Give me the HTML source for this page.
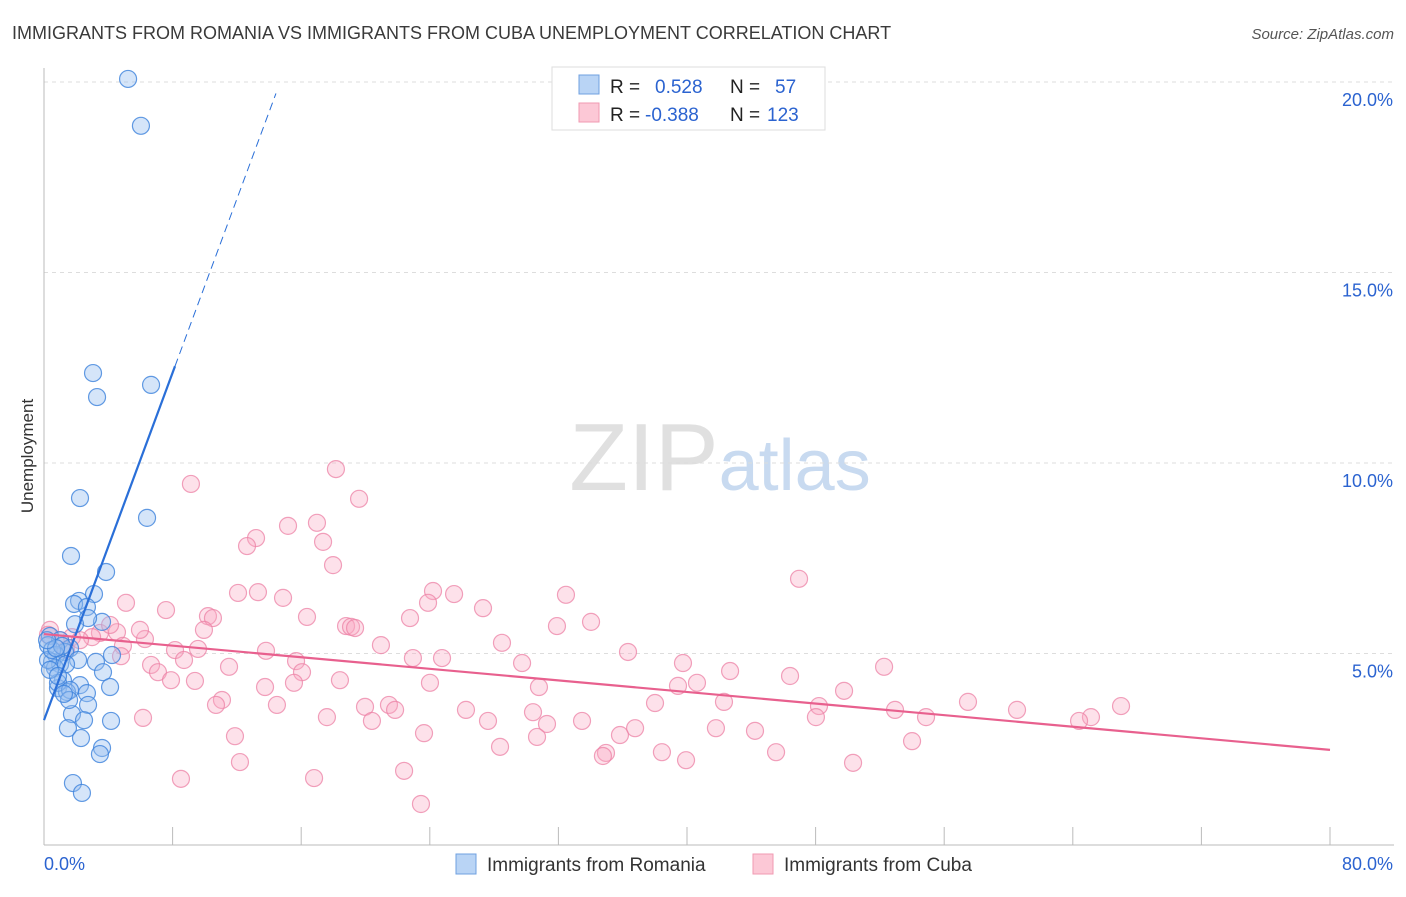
<!DOCTYPE html>
<html><head><meta charset="utf-8"><style>
body{margin:0;background:#fff;font-family:"Liberation Sans",sans-serif;}
svg text{font-family:"Liberation Sans",sans-serif;}
</style></head><body>
<svg id="chart" width="1406" height="892" xmlns="http://www.w3.org/2000/svg">
<text x="12" y="39" font-size="18" fill="#3a3a3a">IMMIGRANTS FROM ROMANIA VS IMMIGRANTS FROM CUBA UNEMPLOYMENT CORRELATION CHART</text>
<text x="1394" y="39" font-size="15" fill="#555" text-anchor="end" font-style="italic">Source: ZipAtlas.com</text>
<text x="720" y="490" font-size="96" text-anchor="middle" fill="#e0e0e0" font-family="Liberation Serif">ZIP<tspan fill="#c8daf0" font-family="Liberation Sans" font-size="72">atlas</tspan></text>
<text transform="translate(33,456) rotate(-90)" font-size="17" fill="#333" text-anchor="middle">Unemployment</text>
<g id="grid"></g><g id="axes"></g><g id="pts"></g><g id="trends"></g>
<g>
<rect x="552" y="67" width="273" height="63" fill="#fff" stroke="#ddd"/>
<rect x="579" y="75" width="20" height="19" fill="#b9d4f5" stroke="#6fa0e0"/>
<rect x="579" y="103" width="20" height="19" fill="#fcc8d6" stroke="#f09ab2"/>
<text x="610" y="93" font-size="19" fill="#222">R = <tspan x="655" fill="#2b63d0">0.528</tspan><tspan x="730" fill="#222">N = </tspan><tspan x="775" fill="#2b63d0">57</tspan></text>
<text x="610" y="121" font-size="19" fill="#222">R = <tspan x="645" fill="#2b63d0">-0.388</tspan><tspan x="730" fill="#222">N = </tspan><tspan x="767" fill="#2b63d0">123</tspan></text>
</g>
<g>
<rect x="456" y="854" width="20" height="20" fill="#b9d4f5" stroke="#6fa0e0"/>
<text x="487" y="871" font-size="19" fill="#333">Immigrants from Romania</text>
<rect x="753" y="854" width="20" height="20" fill="#fcc8d6" stroke="#f09ab2"/>
<text x="784" y="871" font-size="19" fill="#333">Immigrants from Cuba</text>
</g>
</svg>
<script>
const yTicks=[5,10,15,20];
const yTickLabels=["5.0%","10.0%","15.0%","20.0%"];
const xTickLabels=["0.0%","80.0%"];
const romaniaX=[5.23,6.03,3.05,6.66,3.30,2.24,6.41,1.68,3.86,3.11,2.18,1.87,2.67,3.61,2.74,1.93,0.37,1.00,0.25,1.62,1.31,0.75,0.50,1.00,2.12,3.23,3.67,0.68,1.18,2.24,4.11,0.87,1.43,2.67,0.87,1.62,2.74,1.74,2.49,4.17,1.49,2.30,3.61,3.48,1.80,2.36,0.25,0.50,1.12,1.37,0.37,0.75,4.23,1.56,1.24,0.87,0.19];
const romaniaY=[20.08,18.85,12.36,12.05,11.73,9.08,8.56,7.56,7.14,6.56,6.38,6.30,6.22,5.83,5.93,5.77,5.46,5.35,5.22,5.14,5.04,4.96,4.78,4.72,4.83,4.78,4.51,4.62,4.30,4.17,4.12,4.09,3.99,3.96,4.23,4.04,3.65,3.41,3.25,3.23,3.04,2.78,2.52,2.36,1.60,1.34,4.83,5.09,5.20,4.72,4.57,5.14,4.96,3.78,3.94,4.41,5.35];
const cubaX=[18.16,9.14,19.60,16.98,15.18,13.19,12.63,17.36,17.98,46.97,24.20,12.07,13.31,25.51,32.47,14.87,23.89,5.10,27.31,7.59,10.20,10.51,16.36,22.77,34.03,31.91,18.79,19.10,19.35,9.95,4.54,3.48,6.28,20.96,28.49,2.99,1.74,4.91,8.15,9.58,13.81,36.33,15.68,8.71,22.95,24.76,29.74,39.75,52.26,6.66,7.09,11.51,16.05,42.68,4.79,7.90,9.39,18.41,24.01,30.79,40.62,39.44,46.41,49.77,13.75,15.55,11.07,10.70,14.49,19.97,21.46,21.84,26.25,30.42,38.01,42.30,48.21,52.94,57.48,60.53,65.13,67.00,54.87,6.16,17.60,20.40,27.62,31.29,33.47,48.02,64.39,11.88,23.64,36.77,35.83,41.80,44.23,30.67,54.00,28.37,38.44,34.96,34.77,45.54,39.94,12.19,50.33,22.40,8.52,16.80,23.45,5.97,4.11,1.00,1.37,0.37,2.24,0.25];
const cubaY=[9.84,9.45,9.06,8.43,8.35,8.03,7.82,7.93,7.32,6.96,6.64,6.59,6.61,6.56,6.54,6.46,6.33,6.33,6.19,6.14,5.98,5.93,5.96,5.93,5.83,5.72,5.72,5.70,5.67,5.62,5.56,5.54,5.38,5.22,5.28,5.43,5.43,5.20,5.09,5.12,5.07,5.04,4.80,4.83,4.88,4.88,4.75,4.75,4.65,4.70,4.51,4.65,4.51,4.54,4.93,4.30,4.28,4.30,4.23,4.12,4.23,4.15,4.41,4.02,4.12,4.23,3.78,3.65,3.65,3.60,3.65,3.52,3.52,3.46,3.70,3.73,3.62,3.52,3.73,3.52,3.33,3.62,3.33,3.31,3.33,3.23,3.23,3.15,3.23,3.33,3.23,2.83,2.91,3.04,2.86,3.04,2.97,2.81,2.70,2.55,2.41,2.39,2.31,2.41,2.20,2.15,2.13,1.92,1.71,1.73,1.05,5.62,5.75,5.35,5.09,5.62,5.35,5.49];
const romaniaTrend=[3.25,1.14]; const cubaTrend=[5.51,-0.038];
const NS="http://www.w3.org/2000/svg";
const X0=44,X1=1330,Y0=844,PY=38.1;
const sx=v=>X0+v*(X1-X0)/80, sy=v=>Y0-v*PY;
function mk(t,a,p){const e=document.createElementNS(NS,t);for(const k in a)e.setAttribute(k,a[k]);p.appendChild(e);return e;}
const grid=document.getElementById('grid'),axes=document.getElementById('axes'),pts=document.getElementById('pts'),tr=document.getElementById('trends');
yTicks.forEach((v,i)=>{
 const l=mk('line',{x1:X0,x2:1394,y1:sy(v),y2:sy(v),stroke:'#ddd','stroke-dasharray':'4,4'},grid);
 
 
 const t=mk('text',{x:1393,y:sy(v)+24,'font-size':18,fill:'#2b63d0','text-anchor':'end'},grid);t.textContent=yTickLabels[i];
 
 
});
let a=mk('line',{x1:X0,x2:X0,y1:68,y2:Y0+1,stroke:'#bbb'},axes);


a=mk('line',{x1:X0,x2:1394,y1:Y0+1,y2:Y0+1,stroke:'#bbb'},axes);


for(let i=1;i<=10;i++){const t=mk('line',{x1:sx(i*8),x2:sx(i*8),y1:Y0-17,y2:Y0+1,stroke:'#bbb'},axes);
 
 }
let t0=mk('text',{x:44,y:870,'font-size':18,fill:'#2b63d0'},axes);t0.textContent=xTickLabels[0];


t0=mk('text',{x:1393,y:870,'font-size':18,fill:'#2b63d0','text-anchor':'end'},axes);t0.textContent=xTickLabels[1];


cubaX.forEach((x,i)=>{const c=mk('circle',{cx:sx(x),cy:sy(cubaY[i]),r:8.5,fill:'rgba(248,170,195,0.35)',stroke:'rgba(236,130,165,0.75)','stroke-width':1.2},pts);
 
 });
romaniaX.forEach((x,i)=>{const c=mk('circle',{cx:sx(x),cy:sy(romaniaY[i]),r:8.5,fill:'rgba(150,190,240,0.4)',stroke:'rgba(60,130,220,0.8)','stroke-width':1.2},pts);
 
 });
const bEnd=8.15,bDash=14.43;
let l=mk('line',{x1:sx(0),y1:sy(romaniaTrend[0]),x2:sx(bEnd),y2:sy(romaniaTrend[0]+romaniaTrend[1]*bEnd),stroke:'#2a6fd8','stroke-width':2.2},tr);


l=mk('line',{x1:sx(bEnd),y1:sy(romaniaTrend[0]+romaniaTrend[1]*bEnd),x2:sx(bDash),y2:sy(romaniaTrend[0]+romaniaTrend[1]*bDash),stroke:'#2a6fd8','stroke-width':1,'stroke-dasharray':'8,5'},tr);


l=mk('line',{x1:sx(0),y1:sy(cubaTrend[0]),x2:sx(80),y2:sy(cubaTrend[0]+cubaTrend[1]*80),stroke:'#e8608e','stroke-width':2.2},tr);


</script>
</body></html>
